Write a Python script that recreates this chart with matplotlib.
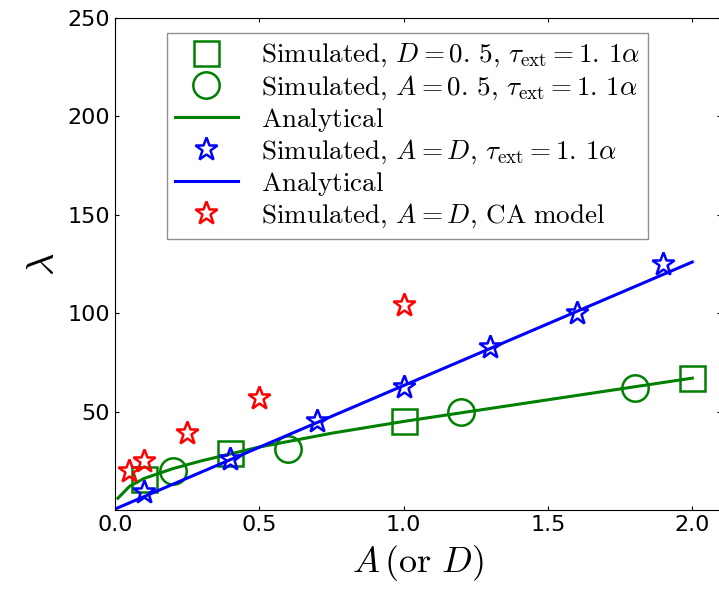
import numpy as np
import matplotlib
matplotlib.use('Agg')
import matplotlib.pyplot as plt

plt.rcParams['mathtext.fontset'] = 'cm'

# simulated, D = 0.5
sq_x = [0.1, 0.4, 1.0, 2.0]
sq_y = [16, 29, 45, 67]
# simulated, A = 0.5
ci_x = [0.2, 0.6, 1.2, 1.8]
ci_y = [20, 31, 50, 62]
# analytical (green)
gl_x = [0.01, 0.05, 0.1, 0.2, 0.3, 0.5, 0.75, 1.0, 1.5, 2.0]
gl_y = [6, 12, 16, 21, 25, 32, 39, 45, 56, 67]
# simulated, A = D
bs_x = [0.1, 0.4, 0.7, 1.0, 1.3, 1.6, 1.9]
bs_y = [9, 26, 45, 62.5, 83, 100, 125]
# analytical (blue)
bl_x = [0.0, 2.0]
bl_y = [0.5, 126]
# CA model
rs_x = [0.05, 0.1, 0.25, 0.5, 1.0]
rs_y = [20, 25, 39, 57, 104]

fig = plt.figure(figsize=(7.19, 5.90), dpi=100)
ax = fig.add_axes([0.16, 0.1356, 0.843, 0.834])

ax.plot(sq_x, sq_y, 's', ms=18, mfc='none', mec='green', mew=1.8,
        label=r'$\mathrm{Simulated,}\,D=0.\,5,\,\tau_{\rm ext}=1.\,1\alpha$')
ax.plot(ci_x, ci_y, 'o', ms=19, mfc='none', mec='green', mew=1.8,
        label=r'$\mathrm{Simulated,}\,A=0.\,5,\,\tau_{\rm ext}=1.\,1\alpha$')
ax.plot(gl_x, gl_y, '-', color='green', lw=2.2, label=r'$\mathrm{Analytical}$')
ax.plot(bs_x, bs_y, '*', ms=17, mfc='none', mec='blue', mew=1.8,
        label=r'$\mathrm{Simulated,}\,A=D,\,\tau_{\rm ext}=1.\,1\alpha$')
ax.plot(bl_x, bl_y, '-', color='blue', lw=2.2, label=r'$\mathrm{Analytical}$')
ax.plot(rs_x, rs_y, '*', ms=17, mfc='none', mec='red', mew=1.8,
        label=r'$\mathrm{Simulated,}\,A=D,\,\mathrm{CA\ model}$')

ax.set_xlim(0, 2.1)
ax.set_ylim(0, 250)
ax.set_xticks([0.0, 0.5, 1.0, 1.5, 2.0])
ax.set_yticks([50, 100, 150, 200, 250])
ax.tick_params(direction='in', length=3, top=True, right=True, labelsize=16)
ax.set_xlabel(r'$A\,(\mathrm{or}\ D)$', fontsize=26, labelpad=6)
ax.set_ylabel(r'$\lambda$', fontsize=28)

leg = ax.legend(loc='upper left', bbox_to_anchor=(0.085, 0.969), numpoints=1,
                fontsize=19.5, frameon=True, fancybox=False, borderaxespad=0,
                labelspacing=0.14, handlelength=2.3, handletextpad=0.85,
                borderpad=0.32)
leg.get_frame().set_edgecolor('0.45')

fig.savefig('out.png', dpi=100)
